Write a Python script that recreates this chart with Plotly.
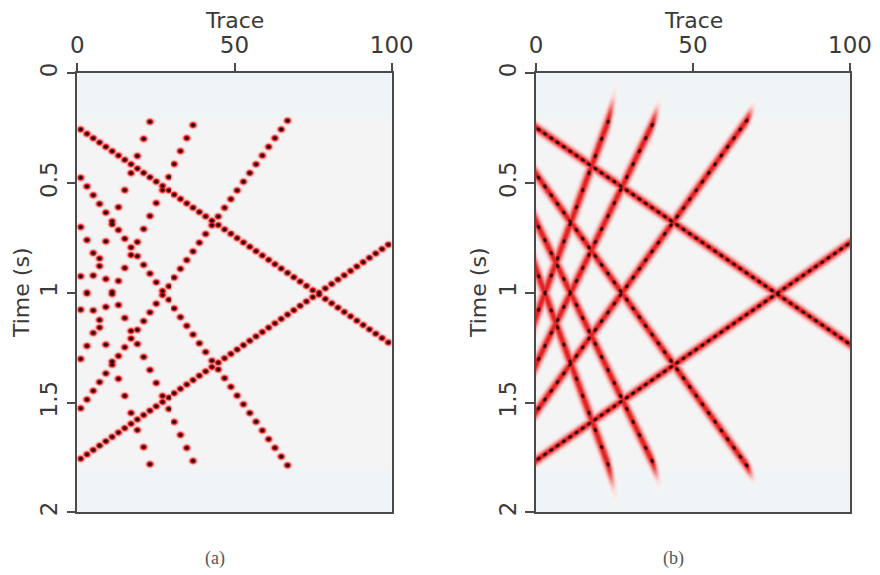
import numpy as np
import plotly.graph_objects as go

# ---- data: linear seismic events (trace, time) start/end points ----
event_names   = ["A", "B", "C", "D", "E", "F", "G", "H"]
event_x_start = [0.0, 0.0, 67.0, 0.0, 37.0, 0.0, 23.0, 0.0]
event_t_start = [0.245, 1.765, 0.215, 0.455, 0.235, 0.670, 0.220, 0.885]
event_x_end   = [100.0, 100.0, 0.0, 67.0, 0.0, 37.0, 0.0, 23.0]
event_t_end   = [1.235, 0.770, 1.545, 1.785, 1.330, 1.765, 1.115, 1.780]

trace_positions = list(range(1, 100, 2))    # recorded traces
data_window = [0.2, 1.8]                     # recorded time window (s)

x_ticks = [0, 50, 100]
y_ticks = [0, 0.5, 1, 1.5, 2]
y_tick_text = ["0", "0.5", "1", "1.5", "2"]
panel_captions = ["(a)", "(b)"]

# ---- rendering grid ----
PPT = 3.144   # px per trace
PPS = 219.5   # px per second
xg = np.linspace(0, 100, 316)
tg = np.linspace(0, 2, 440)
X, T = np.meshgrid(xg, tg)

def event_geom(i):
    x0, t0, x1, t1 = event_x_start[i], event_t_start[i], event_x_end[i], event_t_end[i]
    s = (t1 - t0) / (x1 - x0)
    lo, hi = min(x0, x1), max(x0, x1)
    xs = np.array([p for p in trace_positions if lo - 1e-6 <= p <= hi + 1e-6], float)
    ts = t0 + s * (xs - x0)
    return xs, ts, s, x0, t0, lo, hi

def round_dots(xs, ts, sx=3.2, st=2.8):
    gx = np.exp(-(((xg[None, :] - xs[:, None]) * PPT) / sx) ** 2)
    gt = np.exp(-(((tg[None, :] - ts[:, None]) * PPS) / st) ** 2)
    return np.max(gt[:, :, None] * gx[:, None, :], axis=0)

def line_dots(xs, ts, m, sa=3.6, sp=2.4):
    n = np.sqrt(1 + m * m)
    ux, uy = 1 / n, m / n
    out = np.zeros_like(X)
    for xd, td in zip(xs, ts):
        dx = (X - xd) * PPT
        dt = (T - td) * PPS
        a = dx * ux + dt * uy
        p = -dx * uy + dt * ux
        out = np.maximum(out, np.exp(-(a / sa) ** 2 - (p / sp) ** 2))
    return out

base = np.where((T >= data_window[0]) & (T <= data_window[1]), 0.02, 0.0)

Za = base.copy()
Zb = base.copy()
for i in range(len(event_names)):
    xs, ts, s, x0, t0, lo, hi = event_geom(i)
    Za = np.maximum(Za, round_dots(xs, ts))
    m = s * PPS / PPT
    dt_px = (T - (t0 + s * (X - x0))) * PPS
    dperp = dt_px / np.sqrt(1 + m * m)
    band = np.exp(-(dperp / 4.6) ** 2)
    outside = np.maximum(0, np.maximum(lo - X, X - hi)) * PPT
    band *= np.exp(-(outside / 6.0) ** 2)
    Zb = np.maximum(Zb, np.maximum(0.5 * band, line_dots(xs, ts, m)))

colorscale = [
    [0.0, "#eff4f6"],
    [0.02, "#f4f4f4"],
    [0.10, "#f7dfdf"],
    [0.28, "#f38e8e"],
    [0.48, "#e52424"],
    [0.66, "#a81616"],
    [0.84, "#330808"],
    [1.0, "#111111"],
]

fig = go.Figure()
for k, Z in enumerate([Za, Zb]):
    fig.add_trace(go.Heatmap(
        x=xg, y=tg, z=np.round(Z, 3).tolist(),
        colorscale=colorscale, zmin=0, zmax=1, showscale=False,
        hoverinfo="skip",
        xaxis="x" if k == 0 else "x2", yaxis="y" if k == 0 else "y2",
    ))

# page body adds an 8px margin; lay out in page pixels minus that offset
OFF = 8
W, H = 880 - OFF, 575 - OFF
def px(v): return (v - OFF) / W
def py(v): return 1 - (v - OFF) / H

dom_a = [px(77.3), px(391.7)]
dom_b = [px(536.0), px(850.0)]
dom_y = [py(512.3), py(73.3)]
tickfont = dict(family="DejaVu Sans", size=23, color="#3a3a3a")
axcommon = dict(showline=True, linecolor="#4a4a4a", linewidth=1.5, mirror=True,
                ticks="outside", ticklen=9, tickwidth=1.5, tickcolor="#4a4a4a",
                showgrid=False, zeroline=False, tickfont=tickfont, automargin=False)

fig.update_layout(
    width=W, height=H, margin=dict(l=0, r=0, t=0, b=0, autoexpand=False),
    paper_bgcolor="white", plot_bgcolor="white", showlegend=False,
    xaxis=dict(domain=dom_a, anchor="y", side="top", range=[0, 100], tickvals=x_ticks, **axcommon),
    yaxis=dict(domain=dom_y, anchor="x", range=[2, 0], tickvals=y_ticks, ticktext=y_tick_text,
               tickangle=-90, **axcommon),
    xaxis2=dict(domain=dom_b, anchor="y2", side="top", range=[0, 100], tickvals=x_ticks, **axcommon),
    yaxis2=dict(domain=dom_y, anchor="x2", range=[2, 0], tickvals=y_ticks, ticktext=y_tick_text,
                tickangle=-90, **axcommon),
)

ann = []
title_font = dict(family="DejaVu Sans", size=22, color="#3a3a3a")
for dom, tx in [(dom_a, 21), (dom_b, 478)]:
    ann.append(dict(text="Trace", x=(dom[0] + dom[1]) / 2, y=py(6), xref="paper", yref="paper",
                    showarrow=False, font=title_font, xanchor="center", yanchor="top"))
    ann.append(dict(text="Time (s)", x=px(tx), y=py(293), xref="paper", yref="paper",
                    showarrow=False, font=title_font, textangle=-90, xanchor="center", yanchor="middle"))
for cap, cx in zip(panel_captions, [215, 673]):
    ann.append(dict(text=cap, x=px(cx), y=py(558), xref="paper", yref="paper", showarrow=False,
                    font=dict(family="Liberation Serif", size=18, color="#555"),
                    xanchor="center", yanchor="middle"))
fig.update_layout(annotations=ann)

fig.write_html("out.html")
